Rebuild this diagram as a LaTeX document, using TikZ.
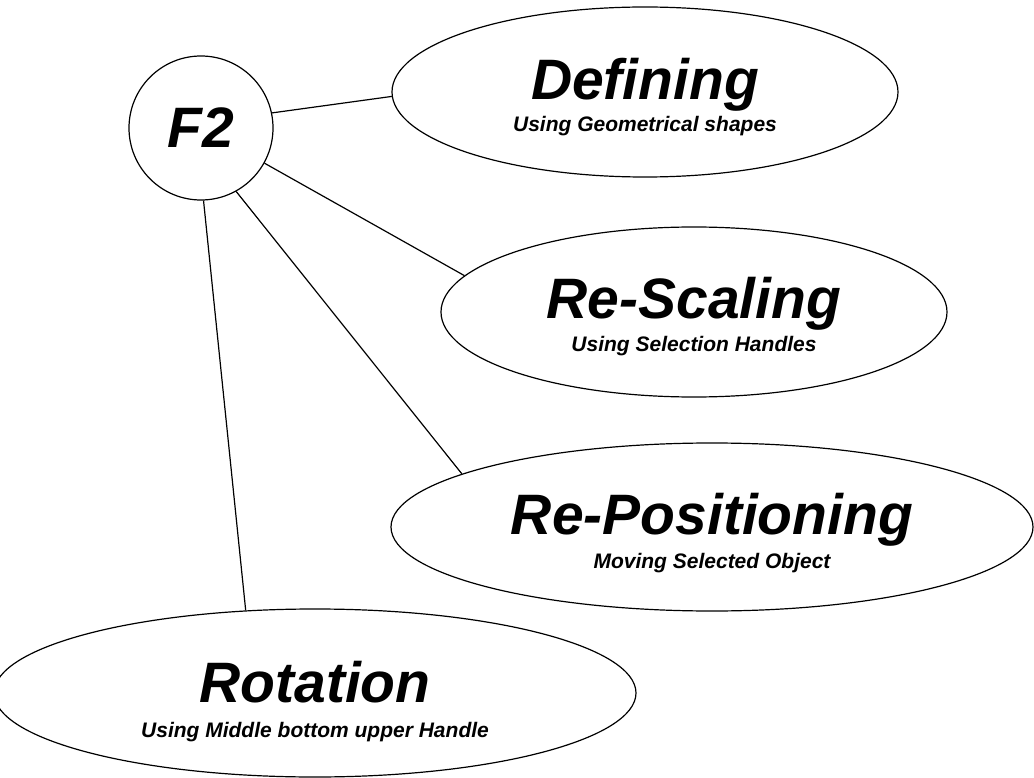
\documentclass[tikz,border=0pt]{standalone}
\usepackage{fontspec}
\setmainfont{Liberation Sans}
\usetikzlibrary{shapes.geometric}
\begin{document}
\begin{tikzpicture}[x=1pt,y=-1pt]
\tikzset{
  Hub/.style={draw,circle,line width=1.2pt,inner sep=0pt,minimum size=144pt,
    font=\fontsize{57}{60}\selectfont\bfseries\itshape},
  Bubble/.style={draw,ellipse,line width=1.2pt,inner sep=0pt},
  SmallBubble/.style={Bubble,minimum width=506pt,minimum height=170pt},
  BigBubble/.style={Bubble,minimum width=642pt,minimum height=168pt},
  Head/.style={anchor=base,inner sep=0pt,font=\fontsize{57}{60}\selectfont\bfseries\itshape},
  Sub/.style={anchor=base,inner sep=0pt,font=\fontsize{21}{24}\selectfont\bfseries\itshape},
  EdgeStyle/.style={line width=1.2pt}
}
\useasboundingbox (0,0) rectangle (1034,778);

\node[Hub] (F2) at (201,128) {F2};
\node[SmallBubble] (Def) at (645,92) {};
\node[SmallBubble] (Scale) at (694,312) {};
\node[BigBubble] (Pos) at (712,527) {};
\node[BigBubble] (Rot) at (315,693) {};

\node[Head] (DefT) at ([yshift=-8pt]Def.center) {Defining};
\node[Sub] (DefS) at ([yshift=-40pt]Def.center) {Using Geometrical shapes};
\node[Head] (ScaleT) at ([yshift=-6pt]Scale.center) {Re-Scaling};
\node[Sub] (ScaleS) at ([yshift=-39pt]Scale.center) {Using Selection Handles};
\node[Head] (PosT) at ([yshift=-7pt]Pos.center) {Re-Positioning};
\node[Sub] (PosS) at ([yshift=-41pt]Pos.center) {Moving Selected Object};
\node[Head] (RotT) at ([yshift=-9pt]Rot.center) {Rotation};
\node[Sub] (RotS) at ([yshift=-44pt]Rot.center) {Using Middle bottom upper Handle};

\draw[EdgeStyle] (F2.12) -- (Def.181);
\draw[EdgeStyle] (F2.-29) -- (Scale.171.5);
\draw[EdgeStyle] (F2.-61) -- (Pos.168.5);
\draw[EdgeStyle] (F2.-88) -- (Rot.130);
\end{tikzpicture}
\end{document}
